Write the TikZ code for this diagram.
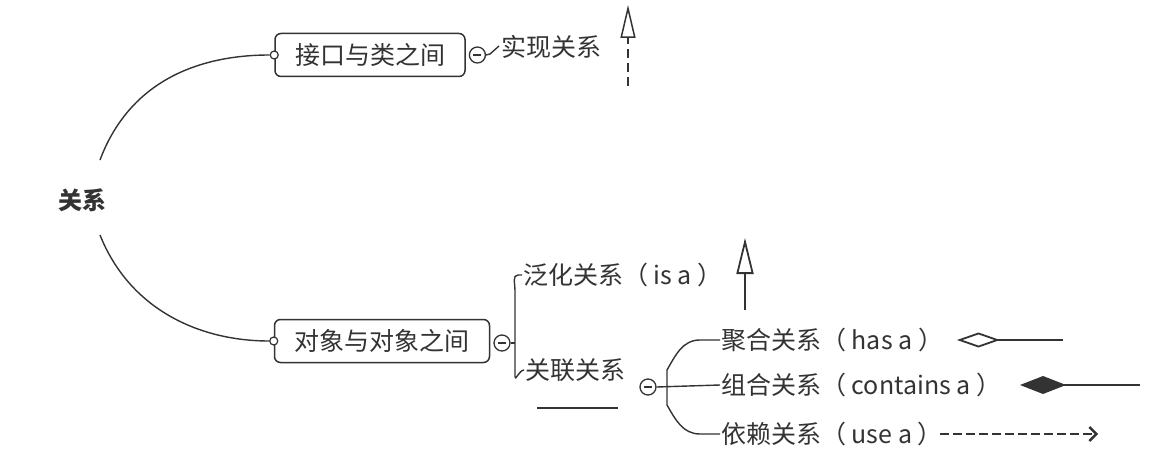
\documentclass[tikz,border=0pt]{standalone}
\usepackage{fontspec}
\setmainfont{Noto Sans CJK SC}
\usetikzlibrary{arrows.meta}
\tikzset{
    topic/.style={draw,rounded corners=6pt,inner xsep=8pt,minimum height=43pt,line width=1.5pt},
    label/.style={inner sep=1pt,anchor=west},
    fold/.style={draw,circle,minimum size=16pt,inner sep=0pt,line width=1.3pt},
    joint/.style={draw,circle,minimum size=8pt,inner sep=0pt,line width=1.2pt,fill=white},
    branch/.style={line width=1.4pt},
}
\newcommand{\minusmark}[1]{\draw[line width=1.3pt] ([xshift=-4pt]#1.center) -- ([xshift=4pt]#1.center);}
\begin{document}
\begin{tikzpicture}[x=1pt,y=-1pt,font=\fontsize{25}{29}\selectfont,color=black!80]
    \useasboundingbox (0,0) rectangle (1149,468);
    % root
    \node[font=\fontsize{24}{28}\selectfont\bfseries] (root) at (82,200) {关系};
    \coordinate (rootup) at (100,160);
    \coordinate (rootdown) at (100,235);

    % interface and class
    \node[topic,minimum width=190pt] (iface) at (370,55) {接口与类之间};
    \node[joint] (ijoint) at (iface.west) {};
    \draw[branch] (rootup) .. controls (130,80) and (200,55) .. (ijoint);
    \node[fold,right=3pt] (ifold) at (iface.east) {};
    \minusmark{ifold}
    \node[label] (impl) at (500,47) {实现关系};
    \draw[branch] (ifold.east) -- (490,54) -- (499,46);
    \coordinate (impltail) at (628,86);
    \coordinate (implhead) at (628,5);
    \draw[line width=1.5pt,dash pattern=on 9pt off 5pt,-{Triangle[open,length=33pt,width=15pt,line width=1.5pt]}] (impltail) -- (implhead);

    % object and object
    \node[topic,minimum width=215pt] (obj) at (382,341) {对象与对象之间};
    \node[joint] (ojoint) at (obj.west) {};
    \draw[branch] (rootdown) .. controls (130,310) and (200,341) .. (ojoint);
    \node[fold] (ofold) at (502,343) {};
    \minusmark{ofold}
    \node[label] (gen) at (522,275) {泛化关系（ is a ）};
    \node[label] (assoc) at (524,370) {关联关系};
    \draw[branch] (ofold.east) -- (515,343);
    \draw[branch] (gen.west) -- ++(-4,0) to[out=180,in=90] (515,290) -- (515,377) to[out=270,in=180] (assoc.west);
    \coordinate (gentail) at (745,310);
    \coordinate (genhead) at (745,238);
    \draw[line width=1.8pt,-{Triangle[open,length=36pt,width=17pt,line width=1.8pt]}] (gentail) -- (genhead);
    \draw[line width=1.6pt] (537,408) -- (618,408);

    % association kinds
    \node[fold] (afold) at (648,387) {};
    \minusmark{afold}
    \node[label] (agg) at (720,340) {聚合关系（ has a ）};
    \node[label] (comp) at (720,385) {组合关系（ contains a ）};
    \node[label] (dep) at (720,434) {依赖关系（ use a ）};
    \draw[branch] (afold.east) -- (comp.west);
    \draw[branch] (agg.west) -- (700,340) to[out=180,in=60] (667,370) -- (667,405) to[out=300,in=180] (700,434) -- (dep.west);
    \coordinate (aggend) at (1063,340);
    \coordinate (aggtip) at (957,340);
    \draw[line width=1.8pt,-{Diamond[open,length=43pt,width=15pt,line width=1.8pt]}] (aggend) -- (aggtip);
    \coordinate (compend) at (1140,385);
    \coordinate (comptip) at (1020,385);
    \draw[line width=1.8pt,-{Diamond[length=46pt,width=18pt]}] (compend) -- (comptip);
    \coordinate (deptail) at (940,434);
    \coordinate (dephead) at (1098,434);
    \draw[line width=2.6pt,dash pattern=on 9pt off 4pt,-{Straight Barb[length=7pt,width=14pt,line width=2.4pt]}] (deptail) -- (dephead);
\end{tikzpicture}
\end{document}
